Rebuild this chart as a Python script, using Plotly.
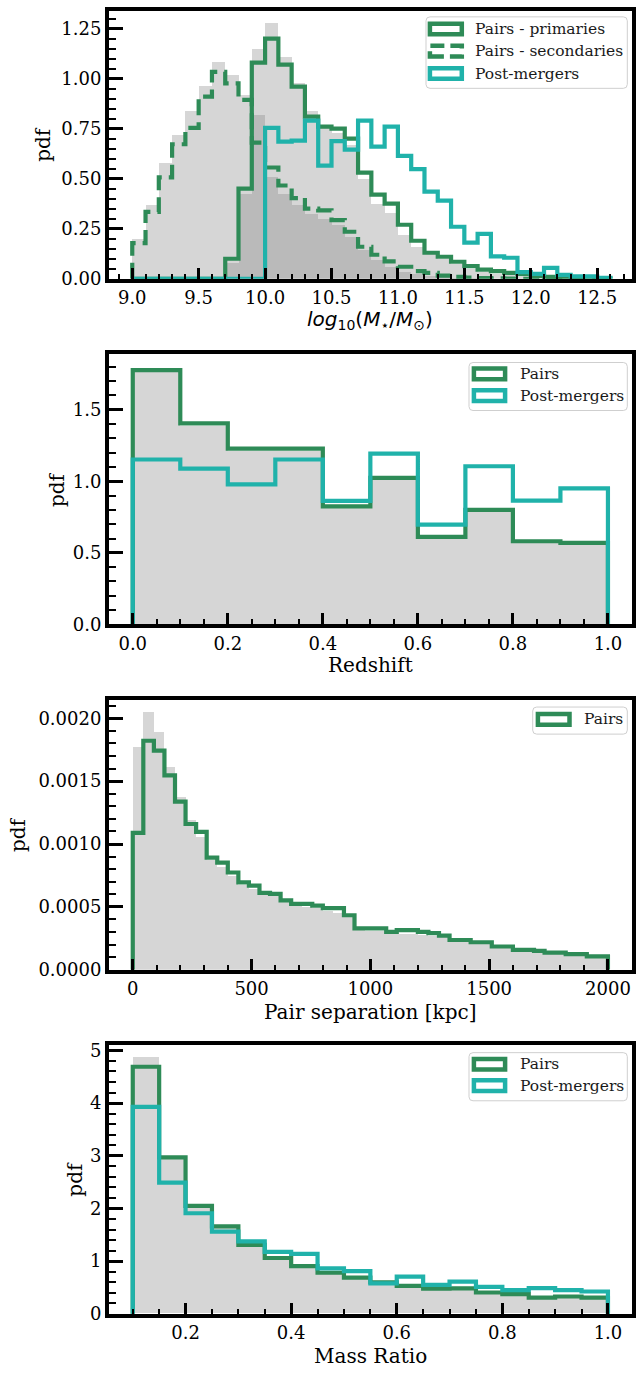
import numpy as np
import plotly.graph_objects as go
from plotly.subplots import make_subplots

W, H = 636, 1373

# ---------------- data ----------------
# stellar mass, bins of 0.1 dex from 9.0 to 12.6
mass_edges = np.linspace(9.0, 12.6, 37)
mass_primaries = [0, 0, 0, 0, 0, 0, 0, 0.10, 0.45, 1.08, 1.20, 1.07, 0.96, 0.81, 0.76, 0.75,
                  0.70, 0.53, 0.42, 0.375, 0.27, 0.19, 0.13, 0.11, 0.085, 0.063, 0.046, 0.038,
                  0.030, 0.025, 0.015, 0.010, 0.006, 0.004, 0.002, 0.001]
mass_secondaries = [0.178, 0.334, 0.507, 0.672, 0.754, 0.91, 1.034, 0.976, 0.894, 0.68, 0.556,
                    0.466, 0.403, 0.35, 0.342, 0.293, 0.235, 0.16, 0.12, 0.087, 0.06, 0.038,
                    0.03, 0.016, 0.01, 0.006, 0.004, 0.002, 0.001, 0, 0, 0, 0, 0, 0, 0]
mass_postmergers = [0, 0, 0, 0, 0, 0, 0, 0, 0, 0, 0.754, 0.685, 0.69, 0.79, 0.565, 0.688,
                    0.645, 0.79, 0.66, 0.76, 0.614, 0.548, 0.435, 0.39, 0.26, 0.181, 0.224,
                    0.112, 0.105, 0.033, 0.025, 0.054, 0.02, 0.012, 0.012, 0.005]
mass_ctrl_primaries = [0, 0, 0, 0, 0, 0, 0, 0.08, 0.425, 1.15, 1.28, 1.108, 0.976, 0.836, 0.76,
                       0.73, 0.67, 0.50, 0.375, 0.33, 0.22, 0.16, 0.128, 0.10, 0.075, 0.05,
                       0.035, 0.025, 0.018, 0.012, 0.008, 0.005, 0.003, 0.002, 0.001, 0]
mass_ctrl_secondaries = [0.20, 0.37, 0.58, 0.72, 0.84, 0.965, 1.085, 1.02, 0.92, 0.82, 0.51,
                         0.425, 0.367, 0.326, 0.30, 0.268, 0.21, 0.145, 0.095, 0.06, 0.035,
                         0.022, 0.014, 0.008, 0.005, 0.003, 0.002, 0.001, 0, 0, 0, 0, 0, 0, 0, 0]

# redshift, bins of 0.1
z_edges = np.linspace(0.0, 1.0, 11)
z_pairs = [1.776, 1.405, 1.228, 1.228, 0.824, 1.024, 0.612, 0.80, 0.581, 0.570]
z_postmergers = [1.152, 1.089, 0.978, 1.152, 0.863, 1.193, 0.697, 1.105, 0.865, 0.951]
z_ctrl = [1.797, 1.39, 1.215, 1.215, 0.83, 1.01, 0.605, 0.79, 0.575, 0.565]

# projected pair separation [kpc], 45 bins from 0 to 2000
sep_edges = np.linspace(0.0, 2000.0, 46)
sep_pairs = [0.001088, 0.001822, 0.001744, 0.001547, 0.001337, 0.001159, 0.001096, 0.000891,
             0.000852, 0.000773, 0.000694, 0.000668, 0.000611, 0.000603, 0.000551, 0.000524,
             0.000524, 0.000510, 0.000490, 0.000490, 0.000433, 0.000328, 0.000328, 0.000328,
             0.000301, 0.000315, 0.000315, 0.000301, 0.000290, 0.000270, 0.000236, 0.000236,
             0.000218, 0.000218, 0.000184, 0.000184, 0.000157, 0.000157, 0.000150, 0.000136,
             0.000136, 0.000123, 0.000123, 0.000105, 0.000105]
sep_ctrl = [0.001775, 0.002053, 0.001893, 0.00162, 0.001376, 0.001193, 0.00106, 0.00088,
            0.00082, 0.00075, 0.00068, 0.000645, 0.00062, 0.000595, 0.000545, 0.00051,
            0.000505, 0.000495, 0.00047, 0.000455, 0.00042, 0.00032, 0.000315, 0.00031,
            0.0003, 0.00029, 0.000285, 0.00028, 0.00027, 0.00026, 0.000228, 0.000222,
            0.00021, 0.000205, 0.00018, 0.000175, 0.000152, 0.000148, 0.000142, 0.00013,
            0.000128, 0.000117, 0.000115, 0.0001, 0.0001]

# mass ratio, bins of 0.05 from 0.1 to 1.0
q_edges = np.linspace(0.1, 1.0, 19)
q_pairs = [4.69, 2.97, 2.05, 1.66, 1.31, 1.06, 0.906, 0.78, 0.687, 0.60, 0.531, 0.48, 0.485,
           0.406, 0.375, 0.31, 0.33, 0.31]
q_postmergers = [3.93, 2.49, 1.91, 1.56, 1.375, 1.175, 1.14, 0.863, 0.812, 0.58, 0.706, 0.55,
                 0.612, 0.512, 0.45, 0.487, 0.45, 0.425]
q_ctrl = [4.86, 2.93, 2.02, 1.63, 1.29, 1.04, 0.89, 0.77, 0.68, 0.59, 0.52, 0.47, 0.47, 0.40,
          0.37, 0.31, 0.32, 0.30]

# ---------------- styling ----------------
GREEN = "#2e8b57"
TEAL = "#20b2aa"
GREY = "rgba(128,128,128,0.32)"
SERIF = "DejaVu Serif"
LW = 4.2
DASH = "16px,7px"


def px(x):
    return x / W


def py(y):
    return 1 - y / H


def step_xy(edges, vals):
    xs = [edges[0]] + list(edges[:-1]) + [edges[-1]]
    ys = [0] + list(vals) + [0]
    return xs, ys


fig = make_subplots(rows=4, cols=1)


def add_ctrl(edges, vals, row):
    edges = np.asarray(edges)
    centers = (edges[:-1] + edges[1:]) / 2
    widths = np.diff(edges)
    fig.add_trace(go.Bar(x=centers, y=vals, width=widths,
                         marker=dict(color=GREY, line=dict(width=0)),
                         showlegend=False, hoverinfo="skip"), row=row, col=1)


def add_step(edges, vals, color, row, dash="solid"):
    xs, ys = step_xy(edges, vals)
    fig.add_trace(go.Scatter(x=xs, y=ys, mode="lines", line_shape="hv",
                             line=dict(color=color, width=LW, dash=dash),
                             showlegend=False, hoverinfo="skip"), row=row, col=1)


# panel 1: stellar mass
add_ctrl(mass_edges, mass_ctrl_primaries, 1)
add_ctrl(mass_edges, mass_ctrl_secondaries, 1)
add_step(mass_edges, mass_primaries, GREEN, 1)
add_step(mass_edges, mass_secondaries, GREEN, 1, dash=DASH)
add_step(mass_edges, mass_postmergers, TEAL, 1)

# panel 2: redshift
add_ctrl(z_edges, z_ctrl, 2)
add_step(z_edges, z_pairs, GREEN, 2)
add_step(z_edges, z_postmergers, TEAL, 2)

# panel 3: separation
add_ctrl(sep_edges, sep_ctrl, 3)
add_step(sep_edges, sep_pairs, GREEN, 3)

# panel 4: mass ratio
add_ctrl(q_edges, q_ctrl, 4)
add_step(q_edges, q_pairs, GREEN, 4)
add_step(q_edges, q_postmergers, TEAL, 4)

# ---------------- axes ----------------
X_LEFT, X_RIGHT = 109, 631.7
panels = [
    dict(top=5, bottom=276, xr=[8.825, 12.76], yr=[0, 1.338], x0=9.0, xdt=0.5, xmin=0.1,
         ydt=0.25, ymin=0.05, xfmt=".1f", yfmt=".2f"),
    dict(top=351.7, bottom=625.7, xr=[-0.05, 1.05], yr=[0, 1.892], x0=0.0, xdt=0.2, xmin=0.05,
         ydt=0.5, ymin=0.1, xfmt=".1f", yfmt=".1f"),
    dict(top=701.7, bottom=975, xr=[-100, 2100], yr=[0, 0.00215], x0=0, xdt=500, xmin=100,
         ydt=0.0005, ymin=0.0001, xfmt="d", yfmt=".4f"),
    dict(top=1051.7, bottom=1323.3, xr=[0.055, 1.045], yr=[0, 5.094], x0=0.0, xdt=0.2,
         xmin=0.05, ydt=1, ymin=0.2, xfmt=".1f", yfmt="d"),
]

tickfont = dict(family=SERIF, size=18, color="black")
for i, p in enumerate(panels, start=1):
    common = dict(showline=True, linewidth=4, linecolor="black", mirror=True,
                  showgrid=False, zeroline=False, ticks="inside", tickcolor="black",
                  tickwidth=2.5, tickfont=tickfont)
    fig.update_xaxes(row=i, col=1, domain=[px(X_LEFT), px(X_RIGHT)], range=p["xr"],
                     tick0=p["x0"], dtick=p["xdt"], tickformat=p["xfmt"], ticklen=11,
                     minor=dict(ticks="inside", ticklen=5, tickwidth=1.5, tickcolor="black",
                                dtick=p["xmin"], tick0=p["x0"], showgrid=False),
                     **common)
    fig.update_yaxes(row=i, col=1, domain=[py(p["bottom"]), py(p["top"])], range=p["yr"],
                     tick0=0, dtick=p["ydt"], tickformat=p["yfmt"], ticklen=14,
                     minor=dict(ticks="inside", ticklen=7, tickwidth=1.5, tickcolor="black",
                                dtick=p["ymin"], tick0=0, showgrid=False),
                     **common)

# ---------------- axis titles ----------------
annotations = []
xc = (X_LEFT + X_RIGHT) / 2
xtitles = [
    ("<i>log</i><sub>10</sub>(<i>M</i><sub>⋆</sub>/<i>M</i><sub>⊙</sub>)", 318, "DejaVu Sans"),
    ("Redshift", 667, SERIF),
    ("Pair separation [kpc]", 1018, SERIF),
    ("Mass Ratio", 1366, SERIF),
]
for text, yc, fam in xtitles:
    annotations.append(dict(text=text, x=px(xc), y=py(yc), xref="paper", yref="paper",
                            xanchor="center", yanchor="middle", showarrow=False,
                            font=dict(family=fam, size=20, color="black")))

ytitles = [(43, 140.5), (57, 488.7), (17.5, 838.3), (75, 1187.5)]
for xp, yc in ytitles:
    annotations.append(dict(text="pdf", x=px(xp), y=py(yc), xref="paper", yref="paper",
                            xanchor="center", yanchor="middle", showarrow=False,
                            textangle=-90, font=dict(family=SERIF, size=20, color="black")))

# ---------------- legends ----------------
shapes = []


def rounded_box(x0, y0, x1, y1, r=4):
    X0, X1 = px(x0), px(x1)
    Y0, Y1 = py(y0), py(y1)
    rx, ry = r / W, r / H
    return (f"M {X0 + rx},{Y0} L {X1 - rx},{Y0} Q {X1},{Y0} {X1},{Y0 - ry} "
            f"L {X1},{Y1 + ry} Q {X1},{Y1} {X1 - rx},{Y1} L {X0 + rx},{Y1} "
            f"Q {X0},{Y1} {X0},{Y1 + ry} L {X0},{Y0 - ry} Q {X0},{Y0} {X0 + rx},{Y0} Z")


def legend(box, handle_x, text_x, entries):
    shapes.append(dict(type="path", path=rounded_box(*box), xref="paper", yref="paper",
                       line=dict(color="#cfcfcf", width=1),
                       fillcolor="rgba(255,255,255,0.85)", layer="above"))
    hx0, hx1 = handle_x
    for label, yc, color, dash in entries:
        shapes.append(dict(type="rect", xref="paper", yref="paper",
                           x0=px(hx0 + 2.2), x1=px(hx1 - 2.2),
                           y0=py(yc + 5.4), y1=py(yc - 5.4),
                           line=dict(color=color, width=4.5, dash=dash),
                           fillcolor="rgba(0,0,0,0)", layer="above"))
        annotations.append(dict(text=label, x=px(text_x), y=py(yc), xref="paper",
                                yref="paper", xanchor="left", yanchor="middle",
                                showarrow=False,
                                font=dict(family=SERIF, size=15.5, color="#1a1a1a")))


legend((426, 11, 627.3, 83.3), (427.7, 464), 473,
       [("Pairs - primaries", 23.3, GREEN, "solid"),
        ("Pairs - secondaries", 45.7, GREEN, "14px,6px"),
        ("Post-mergers", 68.3, TEAL, "solid")])
legend((469, 360.7, 627.3, 409.3), (471.7, 507.3), 518,
       [("Pairs", 372.3, GREEN, "solid"),
        ("Post-mergers", 394.3, TEAL, "solid")])
legend((532.7, 709.3, 627.3, 736.7), (535.7, 571.7), 581.5,
       [("Pairs", 721.7, GREEN, "solid")])
legend((469, 1059, 627.3, 1107.7), (471.7, 507.3), 518,
       [("Pairs", 1070.7, GREEN, "solid"),
        ("Post-mergers", 1092.3, TEAL, "solid")])

fig.update_layout(
    width=W, height=H,
    margin=dict(l=0, r=0, t=0, b=0),
    paper_bgcolor="white", plot_bgcolor="white",
    barmode="overlay", bargap=0,
    showlegend=False,
    annotations=annotations,
    shapes=shapes,
)

fig.write_html("out.html")
